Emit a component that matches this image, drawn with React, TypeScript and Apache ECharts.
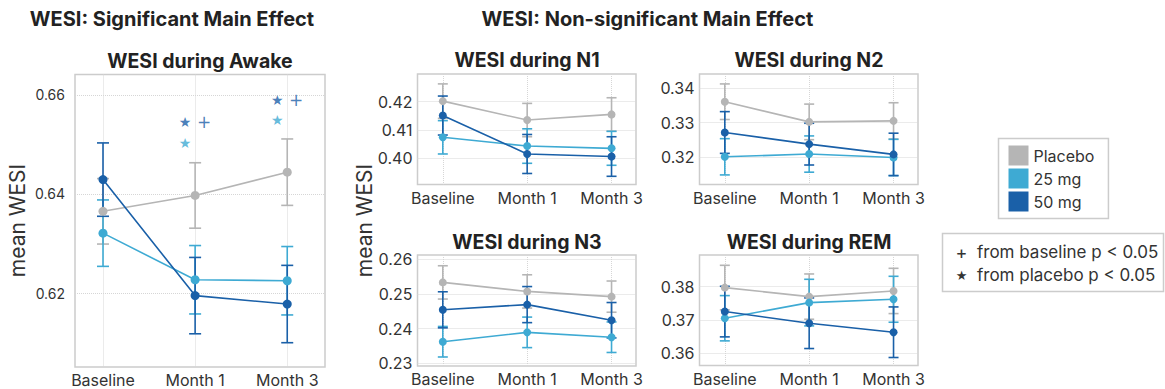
import React, { useEffect, useRef } from 'react';
import * as echarts from 'echarts';

// ---------- data ----------
const categories = ['Baseline', 'Month 1', 'Month 3'];
const doses = ['Placebo', '25 mg', '50 mg'];
const doseColors = ['#b5b5b5', '#3eaad3', '#1a60a8'];

// WESI during Awake
const awakePlacebo = [0.6365, 0.6397, 0.6444];
const awakePlaceboErr = [0.0066, 0.0066, 0.0067];
const awake25 = [0.6321, 0.6227, 0.6225];
const awake25Err = [0.0067, 0.0069, 0.0069];
const awake50 = [0.6429, 0.6195, 0.6178];
const awake50Err = [0.0074, 0.0077, 0.0078];
const awakeTicks = [0.62, 0.64, 0.66];

// significance markers in Awake panel: [category index, value]
const awakeStar50 = [[1, 0.6545], [2, 0.659]];
const awakePlus50 = [[1, 0.6545], [2, 0.659]];
const awakeStar25 = [[1, 0.6503], [2, 0.655]];

// WESI during N1
const n1Placebo = [0.4202, 0.4135, 0.4155];
const n1PlaceboErr = [0.0061, 0.0059, 0.0059];
const n125 = [0.4074, 0.4043, 0.4035];
const n125Err = [0.0059, 0.0061, 0.006];
const n150 = [0.4151, 0.4015, 0.4006];
const n150Err = [0.0069, 0.0069, 0.007];
const n1Ticks = [0.4, 0.41, 0.42];

// WESI during N2
const n2Placebo = [0.3361, 0.3302, 0.3305];
const n2PlaceboErr = [0.0052, 0.0052, 0.0053];
const n225 = [0.32, 0.3208, 0.3198];
const n225Err = [0.0053, 0.0053, 0.0053];
const n250 = [0.3271, 0.3237, 0.3207];
const n250Err = [0.0061, 0.0061, 0.0062];
const n2Ticks = [0.32, 0.33, 0.34];

// WESI during N3
const n3Placebo = [0.2533, 0.2507, 0.2492];
const n3PlaceboErr = [0.0048, 0.0048, 0.0045];
const n325 = [0.2362, 0.2389, 0.2375];
const n325Err = [0.0044, 0.0044, 0.0044];
const n350 = [0.2454, 0.2469, 0.2424];
const n350Err = [0.0052, 0.0052, 0.0051];
const n3Ticks = [0.23, 0.24, 0.25, 0.26];

// WESI during REM
const remPlacebo = [0.3797, 0.377, 0.3787];
const remPlaceboErr = [0.0067, 0.0068, 0.0068];
const rem25 = [0.3705, 0.3752, 0.3762];
const rem25Err = [0.0068, 0.007, 0.0069];
const rem50 = [0.3725, 0.369, 0.3663];
const rem50Err = [0.0076, 0.0076, 0.0076];
const remTicks = [0.36, 0.37, 0.38];

// ---------- layout ----------
const FONT = 'Inter, "Noto Sans", "DejaVu Sans", sans-serif';
const TXT = '#333333';
const HEAD = '#222222';

const panels = [
  {
    title: 'WESI during Awake', tx: 200, ty: 61,
    means: [awakePlacebo, awake25, awake50], errs: [awakePlaceboErr, awake25Err, awake50Err],
    ticks: awakeTicks, yMin: 0.6051, yMax: 0.6641, xMin: -0.304, xMax: 2.41,
    grid: [75, 74.5, 250, 292.5], yLabelSize: 14, yMargin: 10, cap: 12, sym: 9,
  },
  {
    title: 'WESI during N1', tx: 527, ty: 60,
    means: [n1Placebo, n125, n150], errs: [n1PlaceboErr, n125Err, n150Err],
    ticks: n1Ticks, yMin: 0.3907, yMax: 0.4298, xMin: -0.3, xMax: 2.29,
    grid: [417.5, 74, 218.5, 110.5], yLabelSize: 16, yMargin: 5, cap: 10, sym: 8,
  },
  {
    title: 'WESI during N2', tx: 809, ty: 60,
    means: [n2Placebo, n225, n250], errs: [n2PlaceboErr, n225Err, n250Err],
    ticks: n2Ticks, yMin: 0.3119, yMax: 0.3442, xMin: -0.3, xMax: 2.29,
    grid: [699.5, 74, 218.5, 110.5], yLabelSize: 16, yMargin: 5, cap: 10, sym: 8,
  },
  {
    title: 'WESI during N3', tx: 527, ty: 241.5,
    means: [n3Placebo, n325, n350], errs: [n3PlaceboErr, n325Err, n350Err],
    ticks: n3Ticks, yMin: 0.2292, yMax: 0.2612, xMin: -0.3, xMax: 2.29,
    grid: [417.5, 255, 218.5, 111], yLabelSize: 16, yMargin: 5, cap: 10, sym: 8,
  },
  {
    title: 'WESI during REM', tx: 809, ty: 241.5,
    means: [remPlacebo, rem25, rem50], errs: [remPlaceboErr, rem25Err, rem50Err],
    ticks: remTicks, yMin: 0.3563, yMax: 0.3895, xMin: -0.3, xMax: 2.29,
    grid: [699.5, 255, 218.5, 110.5], yLabelSize: 16, yMargin: 5, cap: 10, sym: 8,
  },
];

const centered = { align: 'center', verticalAlign: 'middle', textAlign: 'center', textVerticalAlign: 'middle' };
const leftMid = { align: 'left', verticalAlign: 'middle', textAlign: 'left', textVerticalAlign: 'middle' };

function buildOption() {
  const series: any[] = [];
  panels.forEach((p, pi) => {
    doses.forEach((d, di) => {
      const color = doseColors[di];
      const cap = p.cap;
      series.push({
        type: 'custom',
        name: d,
        xAxisIndex: pi,
        yAxisIndex: pi,
        itemStyle: { color },
        encode: { x: 0, y: [1, 2] },
        data: p.means[di].map((m, i) => [i, m - p.errs[di][i], m + p.errs[di][i]]),
        renderItem: (params: any, api: any) => {
          const x = api.value(0);
          const top = api.coord([x, api.value(2)]);
          const bot = api.coord([x, api.value(1)]);
          const w = cap / 2;
          const st = { stroke: color, lineWidth: 1.6 };
          return {
            type: 'group',
            children: [
              { type: 'line', shape: { x1: top[0], y1: top[1], x2: bot[0], y2: bot[1] }, style: st },
              { type: 'line', shape: { x1: top[0] - w, y1: top[1], x2: top[0] + w, y2: top[1] }, style: st },
              { type: 'line', shape: { x1: bot[0] - w, y1: bot[1], x2: bot[0] + w, y2: bot[1] }, style: st },
            ],
          };
        },
      });
      series.push({
        type: 'line',
        name: d,
        xAxisIndex: pi,
        yAxisIndex: pi,
        data: p.means[di].map((m, i) => [i, m]),
        symbol: 'circle',
        symbolSize: p.sym,
        itemStyle: { color, borderWidth: 0 },
        lineStyle: { color, width: 1.6 },
      });
    });
  });

  const marker = (name: string, data: number[][], text: string, color: string, size: number, dx: number) => ({
    type: 'scatter',
    name,
    xAxisIndex: 0,
    yAxisIndex: 0,
    data,
    symbolSize: 1,
    itemStyle: { color: 'rgba(0,0,0,0)' },
    label: {
      show: true,
      position: 'inside',
      formatter: text,
      color,
      fontSize: size,
      fontFamily: '"DejaVu Sans", sans-serif',
      offset: [dx, 0],
    },
    z: 5,
  });
  series.push(marker('sig-star-50', awakeStar50, '★', doseColors[2], 14, -10));
  series.push(marker('sig-plus-50', awakePlus50, '+', doseColors[2], 17, 9));
  series.push(marker('sig-star-25', awakeStar25, '★', doseColors[1], 14, -10));

  const graphicEls: any[] = [
    {
      type: 'text', x: 172, y: 19,
      style: { text: 'WESI: Significant Main Effect', font: `bold 20px ${FONT}`, fill: HEAD, ...centered },
    },
    {
      type: 'text', x: 647.5, y: 19,
      style: { text: 'WESI: Non-significant Main Effect', font: `bold 20px ${FONT}`, fill: HEAD, ...centered },
    },
    {
      type: 'text', x: 17, y: 220.5, rotation: Math.PI / 2,
      style: { text: 'mean WESI', font: `21px ${FONT}`, fill: TXT, ...centered },
    },
    {
      type: 'text', x: 364, y: 220.5, rotation: Math.PI / 2,
      style: { text: 'mean WESI', font: `21px ${FONT}`, fill: TXT, ...centered },
    },
    {
      type: 'rect', shape: { x: 942.5, y: 233.5, width: 221, height: 58 },
      style: { fill: '#fff', stroke: '#cccccc', lineWidth: 1.5 },
    },
    {
      type: 'text', x: 961.5, y: 252,
      style: { text: '+', font: `18px ${FONT}`, fill: TXT, ...centered },
    },
    {
      type: 'text', x: 977, y: 252,
      style: { text: 'from baseline p < 0.05', font: `17px ${FONT}`, fill: TXT, ...leftMid },
    },
    {
      type: 'text', x: 961.5, y: 275,
      style: { text: '★', font: `13px "DejaVu Sans", sans-serif`, fill: TXT, ...centered },
    },
    {
      type: 'text', x: 977, y: 275,
      style: { text: 'from placebo p < 0.05', font: `17px ${FONT}`, fill: TXT, ...leftMid },
    },
  ];
  panels.forEach((p) => {
    graphicEls.push({
      type: 'text', x: p.tx, y: p.ty,
      style: { text: p.title, font: `bold 19.5px ${FONT}`, fill: HEAD, ...centered },
    });
  });

  return {
    animation: false,
    backgroundColor: '#ffffff',
    textStyle: { fontFamily: FONT },
    legend: {
      data: doses,
      orient: 'vertical',
      left: 998.5,
      top: 138.5,
      icon: 'rect',
      itemWidth: 20,
      itemHeight: 20,
      itemGap: 3,
      padding: [7, 14, 7, 10],
      borderColor: '#cccccc',
      borderWidth: 1.5,
      backgroundColor: '#fff',
      itemStyle: { borderWidth: 0 },
      textStyle: { fontSize: 16, color: TXT, fontFamily: FONT },
    },
    grid: panels.map((p) => ({
      left: p.grid[0], top: p.grid[1], width: p.grid[2], height: p.grid[3],
      show: true, borderColor: '#cccccc', borderWidth: 1.5, backgroundColor: 'transparent',
    })),
    xAxis: panels.map((p, i) => ({
      type: 'value', gridIndex: i, min: p.xMin, max: p.xMax,
      axisLine: { show: false },
      axisTick: { show: false, customValues: [0, 1, 2] },
      axisLabel: {
        customValues: [0, 1, 2],
        formatter: (v: number) => categories[Math.round(v)] ?? '',
        fontSize: 16, color: TXT, margin: 5, fontFamily: FONT,
      },
      splitLine: { show: true, lineStyle: { type: 'dotted', color: '#d6d6d6', width: 1 } },
    })),
    yAxis: panels.map((p, i) => ({
      type: 'value', gridIndex: i, min: p.yMin, max: p.yMax,
      axisLine: { show: false },
      axisTick: { show: false, customValues: p.ticks },
      axisLabel: {
        customValues: p.ticks,
        formatter: (v: number) => v.toFixed(2),
        fontSize: p.yLabelSize, color: TXT, margin: p.yMargin, fontFamily: FONT,
      },
      splitLine: { show: true, lineStyle: { type: 'dotted', color: '#d6d6d6', width: 1 } },
    })),
    graphic: graphicEls,
    series,
  };
}

export default function App() {
  const ref = useRef<HTMLDivElement>(null);
  useEffect(() => {
    if (!ref.current) return;
    const chart = echarts.init(ref.current, undefined, { renderer: 'svg' });
    chart.setOption(buildOption() as any);
    return () => chart.dispose();
  }, []);
  return (
    <div
      ref={ref}
      style={{ position: 'fixed', left: 0, top: 0, width: 1165, height: 389, background: '#fff' }}
    />
  );
}
